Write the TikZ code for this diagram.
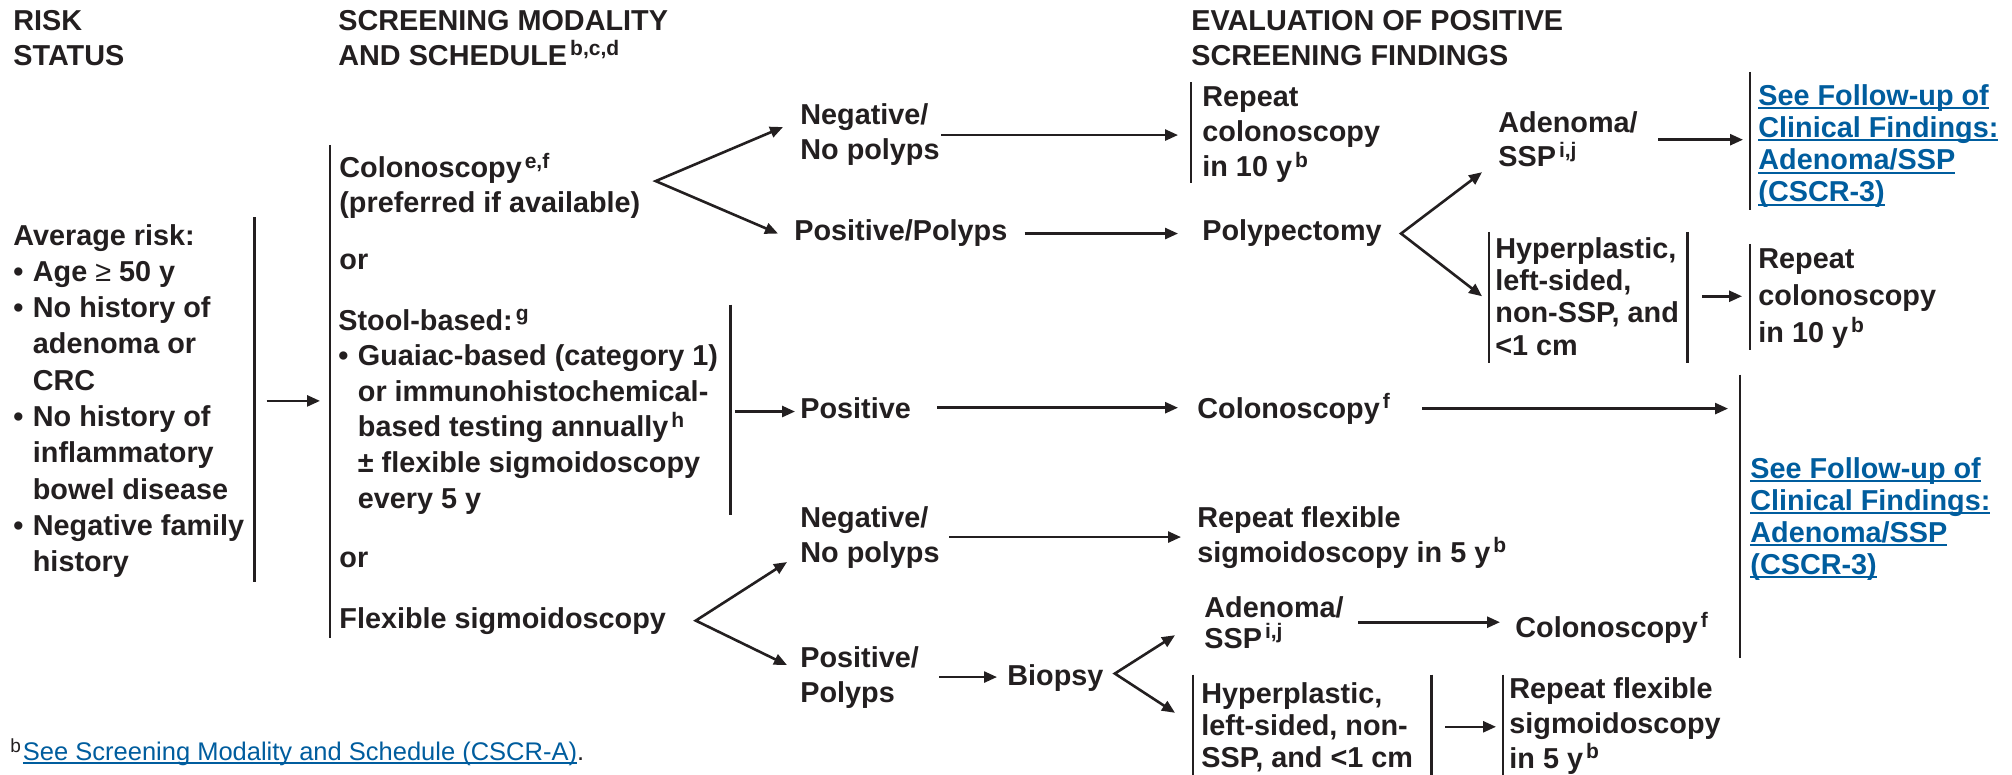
\documentclass[tikz,border=0pt]{standalone}
\usepackage{fontspec}
\setmainfont{Liberation Sans}
\usetikzlibrary{arrows.meta}

\definecolor{ink}{RGB}{35,31,32}
\definecolor{linkblue}{RGB}{0,93,158}

% underlined link text (rule at a fixed depth below the baseline)
\newlength\lnkwd
\newcommand\lnk[1]{\settowidth\lnkwd{#1}\rlap{\rule[-2pt]{\lnkwd}{1pt}}#1}
% footnote markers
\newcommand\sups[1]{\hspace{1.5pt}\raisebox{4.8pt}{\fontsize{10.5pt}{10.5pt}\selectfont #1}}
% bullets with hanging indent
\newcommand\bul{\makebox[9.75pt][l]{\textbullet}}
\newcommand\hgap{\hspace*{9.75pt}}
% body font with a given line spacing
\newcommand\fsz[1]{\fontsize{14.4pt}{#1}\selectfont\bfseries}
% vertical rules beside a text block: node, gap, extra at top, extra at bottom
\newcommand\barL[4]{\draw[vbar] ([xshift=-#2,yshift=#3]#1.north west) -- ([xshift=-#2,yshift=-#4]#1.south west);}
\newcommand\barR[4]{\draw[vbar] ([xshift=#2,yshift=#3]#1.north east) -- ([xshift=#2,yshift=-#4]#1.south east);}

\begin{document}
\begin{tikzpicture}[x=0.5pt,y=-0.5pt,
  % nodes are placed by the baseline of their last line
  txt/.style={anchor=base west, inner sep=0pt, align=left, text=ink, font={\fsz{17.5pt}}},
  lnktxt/.style={txt, text=linkblue},
  vbar/.style={draw=ink, line width=1.25pt},
  arr/.style={draw=ink, line width=1.3pt, -{Triangle[length=6.5pt,width=5.5pt]}},
  forkln/.style={draw=ink, line width=1.3pt, line join=miter,
    {Triangle[length=6.5pt,width=5.5pt]}-{Triangle[length=6.5pt,width=5.5pt]}}]

\fill[white] (0,0) rectangle (2012,775);
\useasboundingbox (0,0) rectangle (2012,775);
\clip (0,0) rectangle (2012,775);

% ---------- column headings ----------
\node[txt, font={\fsz{17.25pt}}] (hrisk) at (13,65.5) {RISK\\STATUS};
\node[txt, font={\fsz{17.25pt}}] (hmod) at (338,65.5) {SCREENING MODALITY\\AND SCHEDULE\sups{b,c,d}};
\node[txt, font={\fsz{17.25pt}}] (heval) at (1191,65.5) {EVALUATION OF POSITIVE\\SCREENING FINDINGS};

% ---------- risk status ----------
\node[txt, font={\fsz{18.15pt}}] (avg) at (13,571.7) {Average risk:\\\bul Age {\mdseries ≥} 50 y\\\bul No history of\\\hgap adenoma or\\\hgap CRC\\\bul No history of\\\hgap inflammatory\\\hgap bowel disease\\\bul Negative family\\\hgap history};

% ---------- screening modality ----------
\node[txt] (colo) at (339,213) {Colonoscopy\sups{e,f}\\(preferred if available)};
\node[txt] (or1) at (339,270) {or};
\node[txt, font={\fsz{17.8pt}}] (stool) at (338,508) {Stool-based:\sups{g}\\\bul Guaiac-based (category 1)\\\hgap or immunohistochemical-\\\hgap based testing annually\sups{h}\\\hgap ± flexible sigmoidoscopy\\\hgap every 5 y};
\node[txt] (or2) at (339,567) {or};
\node[txt] (flex) at (339,628) {Flexible sigmoidoscopy};

% ---------- colonoscopy results ----------
\node[txt] (neg1) at (800,160) {Negative/\\No polyps};
\node[txt] (pos1) at (794,241) {Positive/Polyps};
\node[txt, font={\fsz{17.75pt}}] (rep1) at (1202,177) {Repeat\\colonoscopy\\in 10 y\sups{b}};
\node[txt] (polyp) at (1202,241) {Polypectomy};
\node[txt, font={\fsz{17pt}}] (aden1) at (1498,167) {Adenoma/\\SSP\sups{i,j}};
\node[lnktxt, font={\fsz{16.15pt}}] (link1) at (1758,202) {\lnk{See Follow-up of}\\\lnk{Clinical Findings:}\\\lnk{Adenoma/SSP}\\\lnk{(CSCR-3)}};
\node[txt, font={\fsz{16.15pt}}] (hyp1) at (1495,355) {Hyperplastic,\\left-sided,\\non-SSP, and\\<1 cm};
\node[txt, font={\fsz{18.25pt}}] (rep2) at (1758,342) {Repeat\\colonoscopy\\in 10 y\sups{b}};

% ---------- stool test results ----------
\node[txt] (pos2) at (800,418) {Positive};
\node[txt] (colo2) at (1197,418) {Colonoscopy\sups{f}};
\node[lnktxt, font={\fsz{16pt}}] (link2) at (1750,574) {\lnk{See Follow-up of}\\\lnk{Clinical Findings:}\\\lnk{Adenoma/SSP}\\\lnk{(CSCR-3)}};

% ---------- flexible sigmoidoscopy results ----------
\node[txt] (neg2) at (800,562) {Negative/\\No polyps};
\node[txt] (rflex) at (1197,562) {Repeat flexible\\sigmoidoscopy in 5 y\sups{b}};
\node[txt] (pos3) at (800,702) {Positive/\\Polyps};
\node[txt] (biopsy) at (1007,685) {Biopsy};
\node[txt, font={\fsz{15.5pt}}] (aden2) at (1204,648) {Adenoma/\\SSP\sups{i,j}};
\node[txt] (colo3) at (1515,637) {Colonoscopy\sups{f}};
\node[txt, font={\fsz{16pt}}] (hyp2) at (1201,767) {Hyperplastic,\\left-sided, non-\\SSP, and <1 cm};
\node[txt] (rflex2) at (1509,768) {Repeat flexible\\sigmoidoscopy\\in 5 y\sups{b}};

% ---------- footnote ----------
\node[anchor=base west, inner sep=0pt, text=ink, font={\fontsize{12.75pt}{15pt}\selectfont}] (fn) at (10,760)
  {\raisebox{4pt}{\fontsize{9.5pt}{9.5pt}\selectfont b}\hspace{1pt}\textcolor{linkblue}{\lnk{See Screening Modality and Schedule (CSCR-A)}}.};

% ---------- vertical rules ----------
\barR{avg}{5pt}{3.2pt}{2pt}
\draw[vbar] ([xshift=-4.5pt,yshift=4pt]colo.north west) -- ([xshift=-4.5pt,yshift=-1.5pt]flex.south west);
\barR{stool}{6pt}{2pt}{0.5pt}
\barL{rep1}{5.5pt}{1.7pt}{0pt}
\barL{link1}{4pt}{6pt}{1pt}
\barL{hyp1}{3pt}{2.5pt}{3.5pt}
\barR{hyp1}{4pt}{2.5pt}{3.5pt}
\barL{rep2}{4pt}{2.5pt}{1pt}
\barL{link2}{5pt}{41pt}{39pt}
\barL{hyp2}{4pt}{3.5pt}{10pt}
\barR{hyp2}{9pt}{3.5pt}{10pt}
\barL{rflex2}{3pt}{1pt}{10pt}

% ---------- connectors ----------
\coordinate (a0) at ([xshift=11pt]avg.east);
\coordinate (c2x) at ([xshift=-4.5pt]flex.west);
\draw[arr, shorten >=5pt] (a0) -- (a0 -| c2x);

% colonoscopy fork
\coordinate (f1) at ([xshift=7.5pt,yshift=2.5pt]colo.east);
\coordinate (f1a) at ([xshift=-8.5pt,yshift=4pt]neg1.west);
\coordinate (f1b) at ([xshift=-8pt]pos1.west);
\draw[forkln] (f1a) -- (f1) -- (f1b);
\draw[arr, shorten <=0.5pt, shorten >=12pt] (neg1.east) -- (neg1.east -| rep1.west);
\draw[arr, shorten <=8.5pt, shorten >=12pt] (pos1.east) -- (pos1.east -| polyp.west);

% polypectomy fork
\coordinate (f2) at ([xshift=9.5pt]polyp.east);
\coordinate (f2a) at ([xshift=-8pt,yshift=-16.25pt]aden1.west);
\coordinate (f2b) at ([xshift=-6.5pt]hyp1.west);
\draw[forkln] (f2a) -- (f2) -- (f2b);
\draw[arr, shorten <=10pt, shorten >=7.5pt] (aden1.east) -- (aden1.east -| link1.west);
\coordinate (a7) at ([xshift=11.5pt]hyp1.east);
\draw[arr, shorten >=8pt] (a7) -- (a7 -| rep2.west);

% stool test
\coordinate (a2) at ([xshift=8.5pt]stool.east);
\draw[arr, shorten >=2.5pt] (a2) -- (a2 -| pos2.west);
\draw[arr, shorten <=13pt, shorten >=9.5pt] (pos2.east) -- (pos2.east -| colo2.west);
\draw[arr, shorten <=16pt, shorten >=11pt] (colo2.east) -- (colo2.east -| link2.west);

% flexible sigmoidoscopy fork
\coordinate (f3) at ([xshift=14.75pt]flex.east);
\coordinate (f3a) at ([xshift=-6.5pt,yshift=-12.5pt]neg2.west);
\coordinate (f3b) at ([xshift=-6.5pt,yshift=6pt]pos3.west);
\draw[forkln] (f3a) -- (f3) -- (f3b);
\draw[arr, shorten <=4.5pt, shorten >=8pt] (neg2.east) -- (neg2.east -| rflex.west);
\draw[arr, shorten <=10pt, shorten >=5pt] (pos3.east) -- (pos3.east -| biopsy.west);

% biopsy fork
\coordinate (f4) at ([xshift=5.5pt,yshift=2pt]biopsy.east);
\coordinate (f4a) at ([xshift=-14.5pt,yshift=-6.5pt]aden2.west);
\coordinate (f4b) at ([xshift=-13pt,yshift=7pt]hyp2.west);
\draw[forkln] (f4a) -- (f4) -- (f4b);
\draw[arr, shorten <=7pt, shorten >=7.5pt] (aden2.east) -- (aden2.east -| colo3.west);
\coordinate (a11) at ([xshift=16pt]hyp2.east);
\draw[arr, shorten >=6.5pt] (a11) -- (a11 -| rflex2.west);

\end{tikzpicture}
\end{document}
